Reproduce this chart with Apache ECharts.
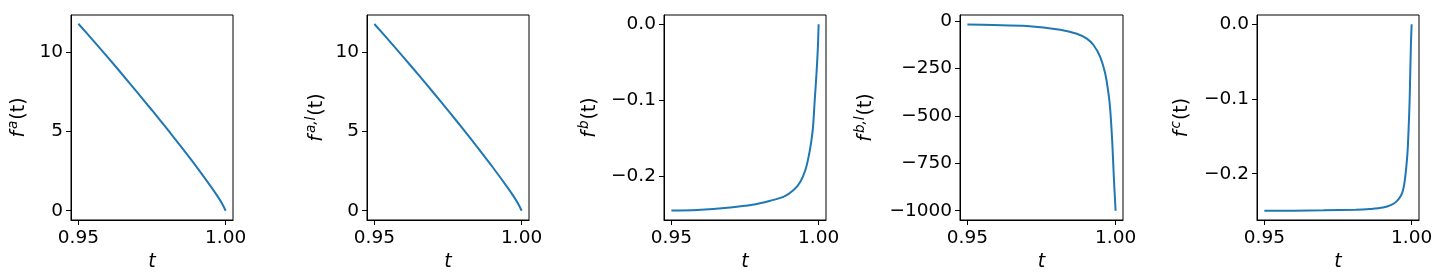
<!DOCTYPE html>
<html>
<head>
<meta charset="utf-8">
<script src="https://cdn.jsdelivr.net/npm/echarts@6/dist/echarts.min.js"></script>
<style>
  html, body { margin: 0; padding: 0; background: #fff; }
  #chart { width: 1440px; height: 273px; }
</style>
</head>
<body>
<div id="chart"></div>
<script>
// ---- data ----
const xTicks = [0.95, 1.00];

const tA = [0.95, 0.955, 0.96, 0.965, 0.97, 0.975, 0.98, 0.985, 0.99, 0.995, 0.9975, 0.999, 1.0];
const fA = [11.8, 10.75, 9.68, 8.58, 7.47, 6.34, 5.19, 4.01, 2.80, 1.52, 0.84, 0.38, 0];

const tAl = [0.95, 0.955, 0.96, 0.965, 0.97, 0.975, 0.98, 0.985, 0.99, 0.995, 0.9975, 0.999, 1.0];
const fAl = [11.78, 10.73, 9.66, 8.57, 7.46, 6.33, 5.18, 4.00, 2.79, 1.52, 0.84, 0.38, 0];

const tB = [0.95, 0.9587, 0.97, 0.9775, 0.9836, 0.9882, 0.9915, 0.9938, 0.9955, 0.9966, 0.9974, 0.9981, 0.9986, 0.9992, 0.9997, 1.0];
const fB = [-0.2445, -0.2437, -0.2405, -0.2370, -0.2316, -0.2263, -0.2176, -0.2067, -0.1913, -0.1739, -0.1564, -0.1346, -0.1039, -0.0691, -0.0341, 0];

const tBl = [0.95, 0.9587, 0.97, 0.9813, 0.9869, 0.9903, 0.9926, 0.9948, 0.9965, 0.9976, 0.9982, 0.9989, 0.9994, 1.0];
const fBl = [-19, -21, -26, -46, -67, -93, -128, -189, -277, -382, -470, -646, -821, -1000];

const tC = [0.95, 0.96, 0.97, 0.981, 0.9858, 0.9903, 0.9931, 0.9948, 0.9962, 0.9971, 0.9977, 0.9982, 0.99865, 0.9990, 0.99932, 0.99955, 0.99977, 1.0];
const fC = [-0.2494, -0.2494, -0.2490, -0.2482, -0.2472, -0.2453, -0.2417, -0.2373, -0.2306, -0.2216, -0.2083, -0.1905, -0.1682, -0.1371, -0.1015, -0.0614, -0.0258, 0];

const yTicksA = [0, 5, 10];
const yTicksB = [-0.2, -0.1, 0.0];
const yTicksBl = [-1000, -750, -500, -250, 0];
const yTicksC = [-0.2, -0.1, 0.0];

const panels = [
  { t: tA,  f: fA,  sup: 'a',   ticks: yTicksA,  min: -0.586, max: 12.35, dec: 0, gap: 42 },
  { t: tAl, f: fAl, sup: 'a,l', ticks: yTicksA,  min: -0.586, max: 12.35, dec: 0, gap: 40 },
  { t: tB,  f: fB,  sup: 'b',   ticks: yTicksB,  min: -0.2569, max: 0.0122, dec: 1, gap: 64 },
  { t: tBl, f: fBl, sup: 'b,l', ticks: yTicksBl, min: -1049, max: 31.6, dec: 0, gap: 84 },
  { t: tC,  f: fC,  sup: 'c',   ticks: yTicksC,  min: -0.2619, max: 0.01245, dec: 1, gap: 65 }
];
const gridRects = [
  { left: 71,   width: 162 },
  { left: 367,  width: 162 },
  { left: 664,  width: 162 },
  { left: 960,  width: 163 },
  { left: 1257, width: 162 }
];

const FONT = 'DejaVu Sans';
const FS = 18.5;
const fmtNum = (v, d) => v.toFixed(d).replace('-', '\u2212');

const grid = [], xAxis = [], yAxis = [], series = [];
panels.forEach((p, i) => {
  grid.push({
    left: gridRects[i].left, width: gridRects[i].width, top: 15, height: 205,
    show: true, borderColor: '#000', borderWidth: 1, backgroundColor: 'transparent',
    containLabel: false, outerBoundsMode: 'none'
  });
  xAxis.push({
    type: 'value', gridIndex: i, min: 0.9475, max: 1.0025, position: 'bottom',
    axisLine: { show: true, onZero: false, lineStyle: { color: '#000', width: 1 } }, splitLine: { show: false },
    axisTick: { show: true, inside: false, length: 5, lineStyle: { color: '#000', width: 1 }, customValues: xTicks },
    axisLabel: { show: true, margin: 9, color: '#000', fontFamily: FONT, fontSize: FS,
      customValues: xTicks, formatter: v => fmtNum(v, 2) },
    name: 't', nameLocation: 'middle', nameGap: 26,
    nameTextStyle: { fontFamily: FONT, fontSize: FS + 0.5, fontStyle: 'italic', color: '#000' }
  });
  yAxis.push({
    type: 'value', gridIndex: i, min: p.min, max: p.max, position: 'left',
    axisLine: { show: true, onZero: false, lineStyle: { color: '#000', width: 1 } }, splitLine: { show: false },
    axisTick: { show: true, inside: false, length: 5, lineStyle: { color: '#000', width: 1 }, customValues: p.ticks },
    axisLabel: { show: true, margin: 8, color: '#000', fontFamily: FONT, fontSize: FS,
      customValues: p.ticks, formatter: v => fmtNum(v, p.dec) },
    name: '{f|f}{s|' + p.sup + '}{n|(t)}', nameLocation: 'middle', nameGap: p.gap, nameRotate: 90,
    nameTextStyle: {
      fontFamily: FONT, color: '#000',
      rich: {
        f: { fontFamily: FONT, fontSize: FS + 0.5, fontStyle: 'italic', color: '#000', lineHeight: 26, verticalAlign: 'bottom', padding: [0, 1, 0, 0] },
        s: { fontFamily: FONT, fontSize: 13.5, fontStyle: 'italic', color: '#000', lineHeight: 26, verticalAlign: 'bottom', padding: [0, 1, 9, 1] },
        n: { fontFamily: FONT, fontSize: FS + 0.5, color: '#000', lineHeight: 26, verticalAlign: 'bottom' }
      }
    }
  });
  series.push({
    type: 'line', xAxisIndex: i, yAxisIndex: i, showSymbol: false, symbol: 'none',
    smooth: 0.3,
    lineStyle: { color: '#1f77b4', width: 2 }, animation: false,
    data: p.t.map((t, k) => [t, p.f[k]])
  });
});

const chart = echarts.init(document.getElementById('chart'), null, { renderer: 'canvas' });
chart.setOption({ animation: false, backgroundColor: '#fff', grid, xAxis, yAxis, series });
</script>
</body>
</html>
